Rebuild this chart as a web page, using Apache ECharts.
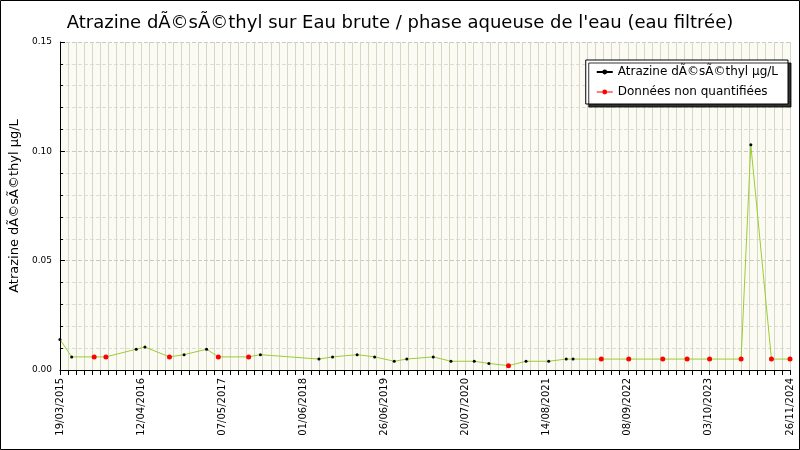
<!DOCTYPE html>
<html><head><meta charset="utf-8">
<script src="https://cdn.jsdelivr.net/npm/echarts@6/dist/echarts.min.js"></script>
<style>html,body{margin:0;padding:0;background:#fff}#c{width:800px;height:450px}</style>
</head><body><div id="c"></div>
<script>
var tickLabels = ['19/03/2015','12/04/2016','07/05/2017','01/06/2018','26/06/2019','20/07/2020','14/08/2021','08/09/2022','03/10/2023','26/11/2024'];
var dates = ['2015-03-19','2015-05-15','2015-09-01','2015-10-28','2016-03-23','2016-05-04','2016-08-31','2016-11-10','2017-02-27','2017-04-25','2017-09-19','2017-11-15','2018-08-26','2018-10-31','2019-02-27','2019-05-23','2019-08-26','2019-10-26','2020-03-02','2020-05-27','2020-09-17','2020-11-27','2021-03-02','2021-05-26','2021-09-13','2021-12-07','2022-01-09','2022-05-26','2022-10-06','2023-03-20','2023-07-16','2023-11-02','2024-04-03','2024-05-20','2024-08-28','2024-11-26'];
var values = [0.014,0.006,0.006,0.006,0.0095,0.0105,0.006,0.007,0.0095,0.006,0.006,0.007,0.005,0.006,0.007,0.006,0.004,0.005,0.006,0.004,0.004,0.003,0.002,0.004,0.004,0.005,0.005,0.005,0.005,0.005,0.005,0.005,0.005,0.103,0.005,0.005];
var nonQuant = [0,0,1,1,0,0,1,0,0,1,1,0,0,0,0,0,0,0,0,0,0,0,1,0,0,0,0,1,1,1,1,1,1,0,1,1];

var tmin = Date.parse(tickLabels[0].split('/').reverse().join('-'));
var tmax = Date.parse(tickLabels[9].split('/').reverse().join('-'));
var step = (tmax - tmin) / 9;
var all = dates.map(function (d, i) { return [Date.parse(d), values[i]]; });
var red = all.filter(function (p, i) { return nonQuant[i]; });

var chart = echarts.init(document.getElementById('c'));
chart.setOption({
  animation: false,
  graphic: [{type: 'rect', shape: {x: 0.5, y: 0.5, width: 799, height: 449}, style: {fill: 'none', stroke: '#000', lineWidth: 1}}],
  title: {text: 'Atrazine dÃ©sÃ©thyl sur Eau brute / phase aqueuse de l\'eau (eau filtrée)', left: 'center', top: 9,
    textStyle: {fontFamily: 'DejaVu Sans', fontWeight: 'normal', fontSize: 18, color: '#000'}},
  legend: {right: 12, top: 60, orient: 'vertical', backgroundColor: '#fff', borderColor: '#000', borderWidth: 1,
    shadowColor: 'rgba(0,0,0,0.8)', shadowOffsetX: 3, shadowOffsetY: 3, shadowBlur: 0, padding: [6, 10],
    itemWidth: 16, itemHeight: 6, textStyle: {fontFamily: 'DejaVu Sans', fontSize: 12, color: '#000'},
    data: [{name: 'Atrazine dÃ©sÃ©thyl µg/L', itemStyle: {color: '#000'}, lineStyle: {color: '#000'}},
           {name: 'Données non quantifiées', itemStyle: {color: '#f00'}, lineStyle: {color: '#f00', width: 1}}]},
  grid: {left: 43, right: 10, top: 42, bottom: 80, show: true, backgroundColor: '#fbfbf3', borderWidth: 0},
  xAxis: {type: 'value', min: tmin, max: tmax, interval: step,
    axisLine: {lineStyle: {color: '#000'}}, axisTick: {length: 5, lineStyle: {color: '#000'}},
    minorTick: {show: true, splitNumber: 10, length: 5, lineStyle: {color: '#000'}},
    splitLine: {show: true, lineStyle: {color: '#d4d8c4'}},
    minorSplitLine: {show: true, lineStyle: {color: '#d4d8c4'}},
    axisLabel: {rotate: 90, fontSize: 10, fontFamily: 'DejaVu Sans', color: '#000', hideOverlap: false, showMaxLabel: true, showMinLabel: true,
      formatter: function (v) { return tickLabels[Math.round((v - tmin) / step)] || ''; }}},
  yAxis: {type: 'value', min: 0, max: 0.15, interval: 0.05,
    name: 'Atrazine dÃ©sÃ©thyl µg/L', nameLocation: 'middle', nameGap: 26,
    nameTextStyle: {fontFamily: 'DejaVu Sans', fontSize: 13, color: '#000'},
    axisLine: {show: true, lineStyle: {color: '#000'}}, axisTick: {show: true, inside: true, length: 5, lineStyle: {color: '#000'}},
    minorTick: {show: true, splitNumber: 5, length: 3, lineStyle: {color: '#000'}},
    splitLine: {show: true, lineStyle: {color: '#c8c8c8', type: 'dashed'}},
    minorSplitLine: {show: true, lineStyle: {color: '#dcdcdc', type: 'dashed'}},
    axisLabel: {fontSize: 9, fontFamily: 'DejaVu Sans', color: '#000', formatter: function (v) { return v.toFixed(2); }}},
  series: [
    {name: 'Atrazine dÃ©sÃ©thyl µg/L', type: 'line', data: all, symbol: 'circle', symbolSize: 3,
      itemStyle: {color: '#000'}, lineStyle: {color: '#9acd32', width: 1}},
    {name: 'Données non quantifiées', type: 'line', data: red, symbol: 'circle', symbolSize: 5,
      itemStyle: {color: '#ff0000'}, lineStyle: {width: 0, color: '#ff0000'}, z: 3}
  ]
});
</script></body></html>
